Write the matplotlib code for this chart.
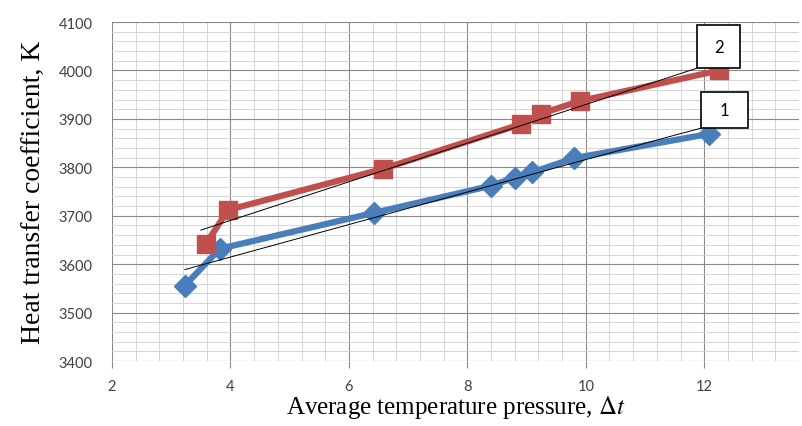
import numpy as np
import matplotlib.pyplot as plt
from matplotlib.ticker import MultipleLocator
from matplotlib.patches import Rectangle

plt.rcParams['mathtext.fontset'] = 'stix'

# series 1 (blue diamonds)
x1 = [3.23, 3.82, 6.42, 8.40, 8.80, 9.10, 9.80, 12.08]
y1 = [3556, 3632, 3706, 3762, 3779, 3790, 3819, 3869]
# series 2 (red squares)
x2 = [3.58, 3.96, 6.58, 8.90, 9.25, 9.90, 12.25]
y2 = [3641, 3712, 3797, 3889, 3911, 3937, 4000]

labels = ['1', '2']
blue = '#4a7ebb'
red = '#c0504d'

fig = plt.figure(figsize=(8.03, 4.27), dpi=100)
ax = fig.add_axes([0.1395, 0.152, 0.8555, 0.794])

ax.set_xlim(2, 13.6)
ax.set_ylim(3400, 4100)
ax.xaxis.set_major_locator(MultipleLocator(2))
ax.xaxis.set_minor_locator(MultipleLocator(0.4))
ax.yaxis.set_major_locator(MultipleLocator(100))
ax.yaxis.set_minor_locator(MultipleLocator(20))
ax.grid(which='major', color='#8a8a8a', lw=0.8)
ax.grid(which='minor', color='#cfcfcf', lw=0.6)
ax.set_axisbelow(True)
for s in ax.spines.values():
    s.set_visible(False)
ax.tick_params(which='both', length=0)
ax.tick_params(axis='x', which='major', length=5, color='#8a8a8a', pad=8)
ax.tick_params(axis='y', pad=14)
for t in ax.get_xticklabels() + ax.get_yticklabels():
    t.set_fontfamily('Lato')
    t.set_fontsize(10.5)
    t.set_color('#404040')

ax.plot(x1, y1, color=blue, lw=4.5, marker='D', ms=11, zorder=3)
ax.plot(x2, y2, color=red, lw=4.5, marker='s', ms=13, zorder=3)

# label boxes (x, y, w, h in data units)
boxes = [(11.95, 3881, 0.79, 75), (11.88, 4005, 0.73, 89)]

# linear trend lines, running up to the bottom-left corner of each box
for xs, ys, x0, (bx, by, bw, bh) in [(x1, y1, 3.23, boxes[0]), (x2, y2, 3.5, boxes[1])]:
    k, b = np.polyfit(xs, ys, 1)
    x_end = bx - 0.4
    ax.plot([x0, x_end, bx], [k * x0 + b, k * x_end + b, by], color='black', lw=0.7, zorder=4)

for (bx, by, bw, bh), lab in zip(boxes, labels):
    ax.add_patch(Rectangle((bx, by), bw, bh, fc='white', ec='black', lw=1.2, zorder=5))
    ax.text(bx + bw / 2, by + bh / 2, lab, fontsize=12, ha='center', va='center',
            fontfamily='Lato', zorder=6)

ax.set_xlabel('Average temperature pressure, $\\Delta t$', fontfamily='Liberation Serif',
              fontsize=18, labelpad=0)
ax.set_ylabel('Heat transfer coefficient, K', fontfamily='Liberation Serif',
              fontsize=20, labelpad=8)

fig.savefig('out.png', dpi=100)
